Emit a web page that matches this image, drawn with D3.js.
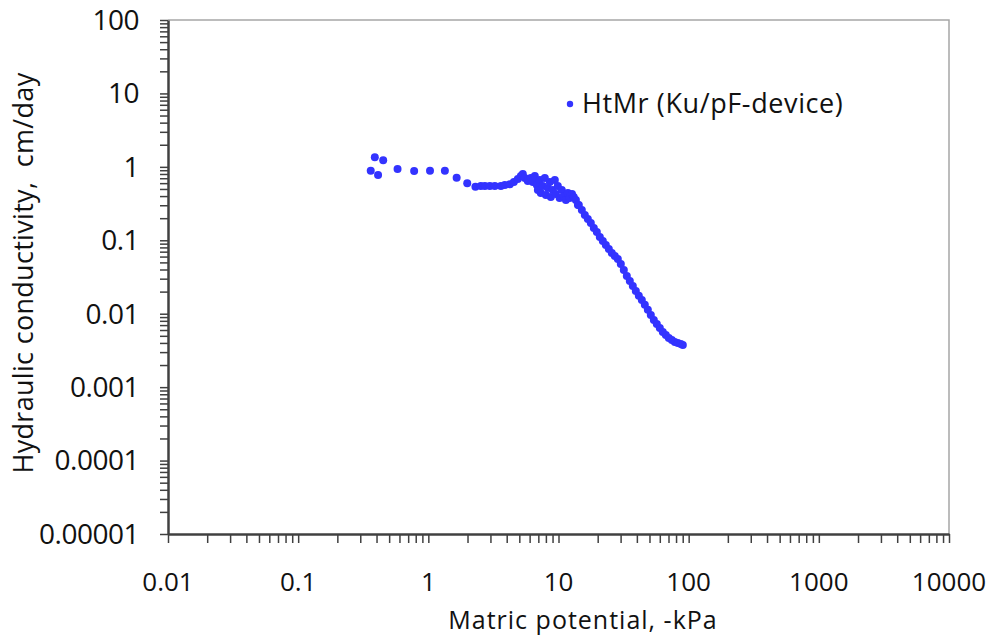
<!DOCTYPE html>
<meta charset="utf-8">
<style>
body { margin: 0; background: #fff; }
#grafico text {
  font-family: "Open Sans", sans-serif;
  fill: #111;
}
#grafico .domain { stroke: #404040; stroke-width: 2.5px; }
#grafico .tick line { stroke: #404040; stroke-width: 1.5px; }
</style>
<svg id="grafico"></svg>
<script src="https://d3js.org/d3.v7.min.js"></script>
<script>

// Matric potential, -kPa
var potential = [0.361, 0.388, 0.411, 0.45, 0.58, 0.778, 1.03, 1.34, 1.65, 1.99, 2.3,
  2.53, 2.72, 2.97, 3.24, 3.61, 3.87, 4.23, 4.54, 4.87, 5.14, 5.32, 5.51, 5.81, 6.13,
  6.35, 6.58, 6.82, 6.94, 7.19, 7.31, 7.58, 7.85, 8.0, 8.28, 8.58, 8.73, 9.04, 9.37,
  9.54, 9.88, 10.2, 10.6, 11.0, 11.4, 11.8, 12.2, 12.7, 13.1, 13.6, 14.1,
  14.33, 15.11, 15.93, 16.8, 17.72, 18.68, 19.7, 20.77, 21.9, 23.1, 24.36, 25.68,
  27.08, 28.56, 30.11, 31.75, 33.49, 35.31, 37.24, 39.26, 41.4, 43.67, 46.04, 48.56,
  51.2, 54.0, 56.93, 60.03, 63.3, 66.76, 70.39, 74.23, 78.27, 82.53, 87.01, 90.18];

// Hydraulic conductivity, cm/day
var conductivity = [0.887, 1.35, 0.776, 1.23, 0.936, 0.88, 0.887, 0.887, 0.713, 0.598, 0.538,
  0.55, 0.55, 0.55, 0.55, 0.55, 0.567, 0.58, 0.623, 0.684, 0.751, 0.80, 0.706, 0.643, 0.706,
  0.623, 0.751, 0.567, 0.485, 0.663, 0.441, 0.55, 0.706, 0.414, 0.516, 0.623, 0.389, 0.485, 0.663,
  0.428, 0.55, 0.377, 0.485, 0.402, 0.354, 0.441, 0.377, 0.428, 0.389, 0.354, 0.303,
  0.3029, 0.2588, 0.2213, 0.1952, 0.1722, 0.1472, 0.1299, 0.111, 0.0979, 0.0864, 0.0762, 0.0672,
  0.0612, 0.0557, 0.0476, 0.0394, 0.0327, 0.0279, 0.0239, 0.0204, 0.0175, 0.0154, 0.0132, 0.0113,
  0.00962, 0.00823, 0.00726, 0.0064, 0.00565, 0.00514, 0.00468, 0.00439, 0.00413, 0.004, 0.00388, 0.00376];

var xTickValues = [0.01, 0.1, 1, 10, 100, 1000, 10000],
    xTickLabels = ["0.01", "0.1", "1", "10", "100", "1000", "10000"];
var yTickValues = [0.00001, 0.0001, 0.001, 0.01, 0.1, 1, 10, 100],
    yTickLabels = ["0.00001", "0.0001", "0.001", "0.01", "0.1", "1", "10", "100"];

var serie = "HtMr (Ku/pF-device)";

var width = 992,
    height = 637;

var svg = d3.select("#grafico")
    .attr("width", width)
    .attr("height", height);

var x = d3.scaleLog()
    .domain([0.01, 10000])
    .range([168, 949]);

var y = d3.scaleLog()
    .domain([0.00001, 100])
    .range([534, 20]);

// marco gris arriba y a la derecha
svg.append("path")
    .attr("d", "M168,20H949V534")
    .attr("fill", "none")
    .attr("stroke", "#a6a6a6")
    .attr("stroke-width", 1.5);

// ticks menores + mayores
svg.append("g")
    .attr("transform", "translate(0,534)")
    .call(d3.axisBottom(x).tickValues(x.ticks()).tickFormat("").tickSize(9).tickSizeOuter(0));

svg.append("g")
    .attr("transform", "translate(168,0)")
    .call(d3.axisLeft(y).tickValues(y.ticks()).tickFormat("").tickSize(8).tickSizeOuter(0));

// etiquetas
svg.append("g").selectAll("text")
    .data(xTickValues)
  .enter().append("text")
    .attr("x", function(d) { return x(d); })
    .attr("y", 582)
    .attr("dy", ".35em")
    .attr("text-anchor", "middle")
    .style("font-size", "26px")
    .style("letter-spacing", "0px")
    .text(function(d, i) { return xTickLabels[i]; });

svg.append("g").selectAll("text")
    .data(yTickValues)
  .enter().append("text")
    .attr("x", 139)
    .attr("y", function(d) { return y(d); })
    .attr("dy", ".35em")
    .attr("text-anchor", "end")
    .style("font-size", "28px")
    .style("letter-spacing", "-0.5px")
    .text(function(d, i) { return yTickLabels[i]; });

// titulos
svg.append("text")
    .attr("x", 583)
    .attr("y", 620)
    .attr("dy", ".35em")
    .attr("text-anchor", "middle")
    .style("font-size", "25px")
    .style("letter-spacing", "1px")
    .text("Matric potential, -kPa");

svg.append("text")
    .attr("transform", "translate(24,273) rotate(-90)")
    .attr("dy", ".35em")
    .attr("text-anchor", "middle")
    .style("font-size", "27px")
    .style("letter-spacing", "0.3px")
    .style("white-space", "pre")
    .text("Hydraulic conductivity,  cm/day");

// puntos
svg.append("g").selectAll("circle")
    .data(potential)
  .enter().append("circle")
    .attr("cx", function(d) { return x(d); })
    .attr("cy", function(d, i) { return y(conductivity[i]); })
    .attr("r", 4)
    .attr("fill", "#3333ff");

// leyenda
svg.append("circle")
    .attr("cx", 570)
    .attr("cy", 104)
    .attr("r", 3.2)
    .attr("fill", "#3333ff");

svg.append("text")
    .attr("x", 582)
    .attr("y", 104)
    .attr("dy", ".35em")
    .style("font-size", "27px")
    .style("letter-spacing", "0.6px")
    .text(serie);

</script>
